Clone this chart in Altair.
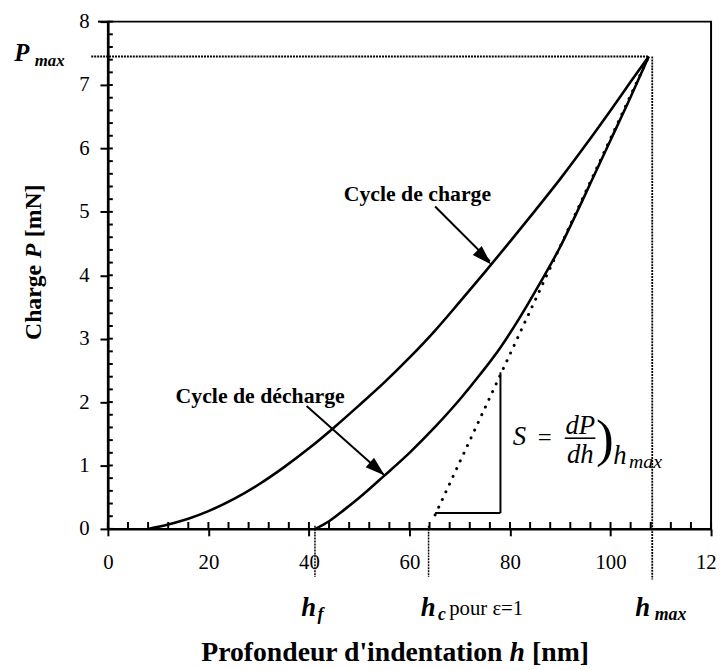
import altair as alt
import pandas as pd
import numpy as np

# ---------------- data ----------------
load_h = [8, 12, 16, 20, 25, 30, 35, 40, 45, 50, 55, 60, 65, 70, 75, 80, 85, 90, 95, 100, 104, 107.6]
load_P = [0, 0.07, 0.16, 0.28, 0.47, 0.70, 0.97, 1.27, 1.60, 1.95, 2.31, 2.70, 3.12, 3.58, 4.05, 4.53, 5.02, 5.52, 6.05, 6.60, 7.05, 7.45]

unload_h = [41.3, 44, 47, 50, 55, 60, 65, 70, 74, 78, 82, 86, 90, 93, 96, 100, 104, 107.6]
unload_P = [0, 0.12, 0.30, 0.49, 0.84, 1.20, 1.60, 2.04, 2.43, 2.85, 3.34, 3.88, 4.45, 4.94, 5.45, 6.13, 6.81, 7.45]

tangent_h = [65.1, 107.6]
tangent_P = [0.22, 7.45]

h_max, P_max = 108.3, 7.45
h_f, h_c = 41.2, 63.8

x_major = [0, 20, 40, 60, 80, 100, 120]
y_major = [0, 1, 2, 3, 4, 5, 6, 7, 8]
x_minor = list(np.arange(0, 121, 4))
y_minor = list(np.round(np.arange(0, 8.001, 0.2), 2))

W, H = 610, 513
FONT = "Liberation Serif"

xs = alt.Scale(domain=[0, 120], nice=False, zero=False)
ys = alt.Scale(domain=[0, 8], nice=False, zero=False)

XAX = alt.Axis(values=x_major, title=None, grid=False, labelFont=FONT, labelFontSize=21,
               labelColor="black", tickSize=7, tickWidth=2, tickColor="black",
               domainColor="black", domainWidth=2.5, labelPadding=16, labelFlush=False,
               labelOverlap=False)
YAX = alt.Axis(values=y_major, title=None, grid=False, labelFont=FONT, labelFontSize=21,
               labelColor="black", tickSize=8, tickWidth=2, tickColor="black",
               domainColor="black", domainWidth=2.5, labelPadding=11, labelFlush=False,
               labelOverlap=False)


def X(f="h"):
    return alt.X(f + ":Q", scale=xs, axis=XAX)


def Y(f="P"):
    return alt.Y(f + ":Q", scale=ys, axis=YAX)


layers = []

# curves
load_df = pd.DataFrame({"h": load_h, "P": load_P})
unload_df = pd.DataFrame({"h": unload_h, "P": unload_P})
layers.append(alt.Chart(load_df).mark_line(color="black", strokeWidth=2.6, interpolate="monotone")
              .encode(x=X(), y=Y()))
layers.append(alt.Chart(unload_df).mark_line(color="black", strokeWidth=2.6, interpolate="monotone")
              .encode(x=X(), y=Y()))

# tangent (dotted)
tan_df = pd.DataFrame({"h": tangent_h, "P": tangent_P})
layers.append(alt.Chart(tan_df).mark_line(color="black", strokeWidth=3, strokeDash=[0.1, 8.5],
                                          strokeCap="round")
              .encode(x=X(), y=Y()))


def seg(h1, p1, h2, p2, dash=None, width=1.6):
    df = pd.DataFrame({"h": [h1], "P": [p1], "h2": [h2], "P2": [p2]})
    kw = dict(color="black", strokeWidth=width)
    if dash:
        kw["strokeDash"] = dash
    return alt.Chart(df).mark_rule(**kw).encode(x=X(), y=Y(), x2="h2:Q", y2="P2:Q")


# guide lines
layers.append(seg(-3.3, P_max, 107.6, P_max, dash=[2, 1], width=1.8))
layers.append(seg(h_max, P_max, h_max, -0.80, dash=[2, 1], width=1.8))
layers.append(seg(h_f, 0.05, h_f, -0.76, dash=[2, 1], width=1.5))
layers.append(seg(h_c, 0.05, h_c, -0.76, dash=[2, 1], width=1.5))

# stiffness triangle
layers.append(seg(65.1, 0.25, 78.1, 0.25, width=2))
layers.append(seg(78.1, 0.25, 78.1, 2.47, width=2))

# arrows
layers.append(seg(65.1, 5.084, 76.0, 4.22, width=2))
layers.append(seg(39.54, 1.938, 54.8, 0.86, width=2))
ARROW = "M0,0 L-0.32,1 L0.32,1 Z"
arr1 = pd.DataFrame({"h": [76.27], "P": [4.17]})
arr2 = pd.DataFrame({"h": [55.09], "P": [0.842]})
layers.append(alt.Chart(arr1).mark_point(shape=ARROW, filled=True, color="black", opacity=1,
                                         size=1600, angle=135).encode(x=X(), y=Y()))
layers.append(alt.Chart(arr2).mark_point(shape=ARROW, filled=True, color="black", opacity=1,
                                         size=1600, angle=131).encode(x=X(), y=Y()))

# inside ticks
xt = pd.DataFrame({"h": x_minor})
yt = pd.DataFrame({"P": y_minor})
layers.append(alt.Chart(xt).mark_rule(color="black", strokeWidth=2)
              .encode(x=X(), y=alt.value(H), y2=alt.value(H - 7)))
layers.append(alt.Chart(yt).mark_rule(color="black", strokeWidth=2)
              .encode(y=Y(), x=alt.value(0), x2=alt.value(5)))
# top frame extension left of the axis
layers.append(alt.Chart(pd.DataFrame({"a": [0]})).mark_rule(color="black", strokeWidth=2)
              .encode(x=alt.value(-10), x2=alt.value(0), y=alt.value(0)))


def label(text, x, y, size, weight="normal", style="normal", align="center",
          baseline="middle", angle=0, xpix=False, ypix=False):
    df = pd.DataFrame({"h": [0 if xpix else x], "P": [0 if ypix else y]})
    enc = {
        "x": alt.value(x) if xpix else X(),
        "y": alt.value(y) if ypix else Y(),
    }
    return alt.Chart(df).mark_text(text=text, font=FONT, fontSize=size, fontWeight=weight,
                                   fontStyle=style, align=align, baseline=baseline,
                                   angle=angle, color="black").encode(**enc)


# curve labels
layers.append(label("Cycle de charge", 61.58, 5.287, 22, weight="bold"))
layers.append(label("Cycle de décharge", 30.30, 2.090, 22, weight="bold"))

# stiffness formula
layers.append(label("S", 81.9, 1.45, 27, style="italic"))
layers.append(label("=", 86.9, 1.435, 25))
layers.append(label("dP", 93.98, 1.614, 27, style="italic"))
layers.append(seg(90.89, 1.43, 96.99, 1.43, width=1.6))
layers.append(label("dh", 93.98, 1.17, 27, style="italic"))
layers.append(label(")", 98.9, 1.396, 54))
layers.append(label("h", 101.85, 1.154, 27, style="italic"))
layers.append(label("max", 103.68, 1.06, 20, style="italic", align="left"))

# P max label (pixel positions, left of the axis)
layers.append(label("P", -87, 40, 25, weight="bold", style="italic", baseline="alphabetic",
                    xpix=True, ypix=True))
layers.append(label("max", -74, 45, 17, weight="bold", style="italic", align="left",
                    baseline="alphabetic", xpix=True, ypix=True))

# labels under the x axis
layers.append(label("h", 39.94, 593, 27, weight="bold", style="italic", ypix=True))
layers.append(label("f", 41.7, 600, 18, weight="bold", style="italic", align="left", ypix=True))
layers.append(label("h", 63.74, 593, 27, weight="bold", style="italic", ypix=True))
layers.append(label("c", 65.7, 600, 18, weight="bold", style="italic", align="left", ypix=True))
layers.append(label("pour ε=1", 67.9, 594, 21, align="left", ypix=True))
layers.append(label("h", 106.4, 593, 27, weight="bold", style="italic", ypix=True))
layers.append(label("max", 108.8, 600, 18, weight="bold", style="italic", align="left", ypix=True))

# axis titles
layers.append(label("Profondeur d'indentation", 399, 639, 28, weight="bold", align="right",
                    xpix=True, ypix=True))
layers.append(label("h", 414, 639, 28, weight="bold", style="italic", xpix=True, ypix=True))
layers.append(label("[nm]", 429, 639, 28, weight="bold", align="left", xpix=True, ypix=True))

layers.append(label("Charge", -75, 246, 24, weight="bold", align="right", angle=270,
                    xpix=True, ypix=True))
layers.append(label("P", -75, 232, 24, weight="bold", style="italic", angle=270,
                    xpix=True, ypix=True))
layers.append(label("[mN]", -75, 218, 24, weight="bold", align="left", angle=270,
                    xpix=True, ypix=True))

chart = (alt.layer(*layers)
         .properties(width=W, height=H, autosize="none",
                     padding={"left": 101, "top": 10, "right": 5, "bottom": 146},
                     background="white")
         .configure_view(stroke="black", strokeWidth=2))

chart.save("out.html", embed_options={"renderer": "svg", "actions": False})
